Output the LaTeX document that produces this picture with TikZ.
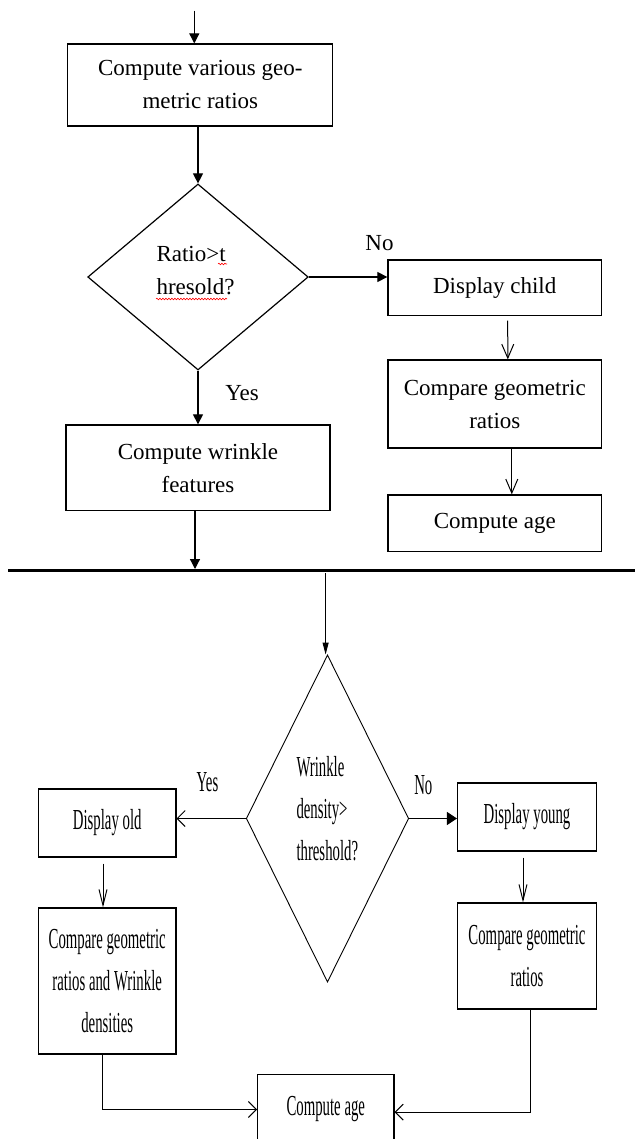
\documentclass[tikz,border=0pt]{standalone}
\usepackage{fontspec}
\setmainfont{Liberation Serif}
\newfontfamily\condfont[FakeStretch=0.51]{Liberation Serif}
\usetikzlibrary{arrows.meta,shapes.geometric,decorations.pathmorphing}
\begin{document}
\begin{tikzpicture}[x=1pt,y=-1pt,
  topfont/.style={font=\fontsize{23}{33}\selectfont},
  botfont/.style={font=\condfont\fontsize{29}{42}\selectfont},
  topbox/.style={draw,line width=1.2pt,inner sep=0pt,align=center,topfont},
  botbox/.style={draw,line width=1.1pt,inner sep=0pt,align=center,botfont},
  toptext/.style={inner sep=0pt,align=left,topfont},
  bottext/.style={inner sep=0pt,align=left,botfont},
  dia/.style={draw,diamond,inner sep=0pt},
  farrow/.style={line width=1.2pt,-{Triangle[length=10pt,width=10pt]}},
  oarrow/.style={line width=1pt,-{Straight Barb[length=14pt,width=12pt,line width=1pt]}},
  voarrow/.style={line width=1pt,-{Straight Barb[length=16pt,width=8pt,line width=1pt]}},
  hoarrow/.style={line width=1pt,-{Straight Barb[length=8pt,width=16pt,line width=1pt]}},
  spell/.style={red,line width=0.6pt,decorate,decoration={snake,segment length=3pt,amplitude=0.8pt}}
]
\useasboundingbox (0,0) rectangle (635,1139);
\clip (0,0) rectangle (635,1139);

% ---------- upper flowchart ----------
\coordinate (start) at (194.3,10.7);
\node[topbox,minimum width=265pt,minimum height=82pt] (ratios) at (200.3,85) {Compute various geo-\\metric ratios};
\node[dia,line width=1.2pt,minimum width=220.5pt,minimum height=186pt] (d1) at (198,277) {};
\node[toptext] (d1t) at (195.5,271) {Ratio>t\\hresold?};
\node[topbox,minimum width=213.5pt,minimum height=55.5pt] (child) at (494.7,287.7) {Display child};
\node[topbox,minimum width=213.7pt,minimum height=88pt] (cmp1) at (494.8,404) {Compare geometric\\ratios};
\node[topbox,minimum width=213.7pt,minimum height=56.7pt] (age1) at (494.8,523.3) {Compute age};
\node[topbox,minimum width=264pt,minimum height=85.7pt] (wr) at (198,467.8) {Compute wrinkle\\features};
\node[toptext] (no1) at (379.5,243) {No};
\node[toptext] (yes1) at (242,393) {Yes};
\coordinate (wrend) at (195,569);

\draw[farrow] (start) -- (start |- ratios.north);
\draw[farrow] (d1.north |- ratios.south) -- (d1.north);
\draw[farrow] (d1.east) -- (d1.east -| child.west);
\draw[farrow] (d1.south) -- (d1.south |- wr.north);
\draw[oarrow] ([xshift=13pt,yshift=-4.5pt]child.south) -- ([xshift=13pt]cmp1.north);
\draw[oarrow] ([xshift=17pt]cmp1.south) -- ([xshift=17pt]age1.north);
\draw[farrow] (wrend |- wr.south) -- (wrend);

% spell-check underlines
\draw[spell] (218,264) -- (227,264);
\draw[spell] (156,299) -- (227,299);

% separating rule
\coordinate (rl) at (8,570.7);
\coordinate (rr) at (635,570.7);
\draw[line width=2.6pt] (rl) -- (rr);

% ---------- lower flowchart ----------
\coordinate (start2) at (325.6,573);
\node[dia,line width=0.9pt,minimum width=162.5pt,minimum height=327pt] (d2) at (327.5,818.5) {};
\node[bottext] (d2t) at (327.3,808.4) {Wrinkle\\density>\\threshold?};
\node[botbox,minimum width=137.5pt,minimum height=68pt] (old) at (107.2,823) {Display old};
\node[botbox,minimum width=139pt,minimum height=68pt] (young) at (527,817) {Display young};
\node[botbox,minimum width=137.5pt,minimum height=146pt] (cmpL) at (107.2,981) {Compare geometric\\ratios and Wrinkle\\densities};
\node[botbox,minimum width=139pt,minimum height=106pt] (cmpR) at (527,956) {Compare geometric\\ratios};
\node[botbox,anchor=base,minimum width=136.3pt,text height=40.7pt,text depth=35pt] (age2) at (325.8,1115) {Compute age};
\node[bottext] (yes2) at (207.5,782) {Yes};
\node[bottext] (no2) at (423.3,785) {No};

\draw[line width=1pt,-{Triangle[length=12pt,width=6pt]}] (start2) -- (start2 |- d2.north);
\draw[hoarrow] (d2.west) -- (d2.west -| old.east);
\draw[line width=1.1pt,-{Triangle[length=10pt,width=13pt]}] (d2.east) -- (d2.east -| young.west);
\draw[voarrow] ([xshift=-4.2pt,yshift=-6pt]old.south) -- ([xshift=-4.2pt]cmpL.north);
\draw[voarrow] ([xshift=-4pt,yshift=-6pt]young.south) -- ([xshift=-4pt]cmpR.north);
\draw[hoarrow] ([xshift=-4.5pt]cmpL.south) |- ([yshift=2.7pt]age2.west);
\draw[hoarrow] ([xshift=3pt]cmpR.south) |- (age2.east);
\end{tikzpicture}
\end{document}
